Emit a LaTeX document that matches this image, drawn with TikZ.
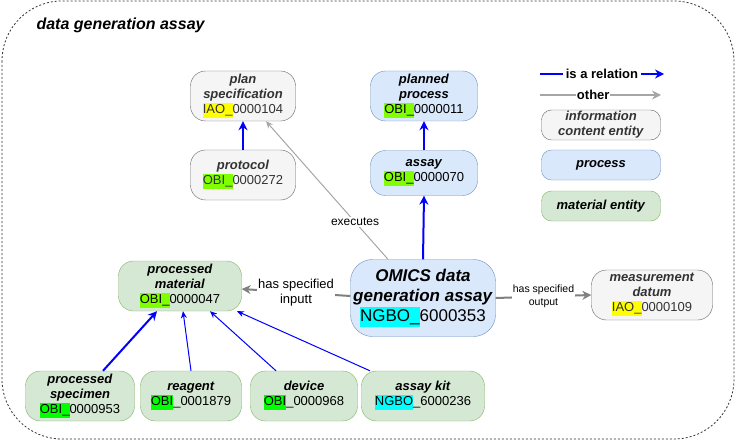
\documentclass[tikz,border=0pt]{standalone}
\usepackage{fontspec}
\setmainfont{Liberation Sans}
\usepackage{tikz}
\usetikzlibrary{arrows.meta}
\definecolor{icefill}{HTML}{F5F5F5}
\definecolor{icestroke}{HTML}{666666}
\definecolor{icetext}{HTML}{333333}
\definecolor{procfill}{HTML}{DAE8FC}
\definecolor{procstroke}{HTML}{6C8EBF}
\definecolor{matfill}{HTML}{D5E8D4}
\definecolor{matstroke}{HTML}{82B366}
\definecolor{idyellow}{HTML}{FFFF00}
\definecolor{idlime}{HTML}{80FF00}
\definecolor{idgreen}{HTML}{00FF00}
\definecolor{idcyan}{HTML}{00FFFF}
\definecolor{relgray}{HTML}{808080}
\definecolor{execgray}{HTML}{A6A6A6}
\newcommand{\term}[1]{\textbf{\textit{#1}}}
\newcommand{\hl}[2]{{\setlength{\fboxsep}{0pt}\colorbox{#1}{\strut#2}}}

\begin{document}
\begin{tikzpicture}[
  x=1pt,y=-1pt,
  box/.style={draw,rounded corners=15pt,align=center,inner sep=0pt,
    font=\fontsize{13}{15}\selectfont},
  info/.style={box,draw=icestroke,fill=icefill,text=icetext},
  proc/.style={box,draw=procstroke,fill=procfill},
  mat/.style={box,draw=matstroke,fill=matfill},
  legbox/.style={box,rounded corners=10pt,minimum width=119pt,minimum height=30pt},
  isa/.style={-{Stealth[length=9pt,width=9pt]},draw=blue,line width=2pt},
  isathin/.style={-{Stealth[length=7pt,width=6pt]},draw=blue,line width=1pt},
  rel/.style={-{Stealth[length=9pt,width=9pt]},draw=relgray,line width=2pt},
  execrel/.style={-{Stealth[length=7pt,width=6pt]},draw=execgray,line width=1pt},
  lbl/.style={fill=white,inner sep=1pt,align=center},
  leglbl/.style={lbl,inner sep=3pt,font=\fontsize{13}{15}\selectfont\bfseries}
]
\useasboundingbox (0,0) rectangle (736,441);
\draw[black!80,line width=0.8pt,dash pattern=on 2pt off 2pt,rounded corners=60pt]
  (2,1) rectangle (734,439);
\node[anchor=west,font=\fontsize{16}{19}\selectfont] (title) at (33,25) {\term{data generation assay}};

% information content entities
\node[info,minimum width=105pt,minimum height=50pt] (plan) at (243,96)
  {\term{plan}\\\term{specification}\\\hl{idyellow}{IAO\_}0000104};
\node[info,minimum width=105pt,minimum height=50pt] (protocol) at (243,175)
  {\term{protocol}\\\hl{idlime}{OBI\_}0000272};
\node[info,minimum width=121pt,minimum height=50pt] (datum) at (652,295)
  {\term{measurement}\\\term{datum}\\\hl{idyellow}{IAO\_}0000109};

% processes
\node[proc,minimum width=107pt,minimum height=50pt] (planned) at (424,96)
  {\term{planned}\\\term{process}\\\hl{idlime}{OBI\_}0000011};
\node[proc,minimum width=107pt,minimum height=45pt] (assay) at (424,173)
  {\term{assay}\\\hl{idlime}{OBI\_}0000070};
\node[proc,rounded corners=22pt,minimum width=145pt,minimum height=77pt,
  font=\fontsize{17}{20}\selectfont] (omics) at (423,298)
  {\term{OMICS data}\\\term{generation assay}\\\hl{idcyan}{NGBO\_}6000353};

% material entities
\node[mat,minimum width=123pt,minimum height=50pt] (material) at (180,286)
  {\term{processed}\\\term{material}\\\hl{idlime}{OBI\_}0000047};
\node[mat,minimum width=109pt,minimum height=50pt] (specimen) at (80,396)
  {\term{processed}\\\term{specimen}\\\hl{idgreen}{OBI\_}0000953};
\node[mat,minimum width=101pt,minimum height=50pt] (reagent) at (191,396)
  {\term{reagent}\\\hl{idgreen}{OBI}\_0001879};
\node[mat,minimum width=107pt,minimum height=50pt] (device) at (304,396)
  {\term{device}\\\hl{idgreen}{OBI}\_0000968};
\node[mat,minimum width=123pt,minimum height=50pt] (kit) at (423,396)
  {\term{assay kit}\\\hl{idcyan}{NGBO}\_6000236};

% legend
\coordinate (isaA) at (540,74);
\coordinate (isaB) at (664,74);
\coordinate (otherA) at (540,95);
\coordinate (otherB) at (661,95);
\draw[isa,line width=1.6pt] (isaA) -- node[leglbl] (isalbl) {is a relation} (isaB);
\draw[rel,draw=execgray,line width=1.6pt] (otherA) -- node[leglbl,inner sep=1pt,pos=0.44] (otherlbl) {other} (otherB);
\node[info,legbox] (legice) at (601,125) {\term{information}\\\term{content entity}};
\node[proc,legbox] (legproc) at (601,165) {\term{process}};
\node[mat,legbox] (legmat) at (601,206) {\term{material entity}};

% is a relations
\draw[isa] (protocol.north) -- (plan.south);
\draw[isa] (assay.north) -- (planned.south);
\draw[isa] (omics.north) -- (assay.south);
\draw[isa] ([xshift=23pt]specimen.north) -- ([xshift=-23pt]material.south);
\draw[isathin] (reagent.north) -- ([xshift=3pt]material.south);
\draw[isathin] ([xshift=-28pt]device.north) -- ([xshift=30pt]material.south);
\draw[isathin] ([xshift=-53pt]kit.north) -- ([xshift=57pt]material.south);

% other relations
\draw[execrel] ([xshift=-35pt]omics.north) -- node[lbl,pos=0.27,font=\fontsize{12}{14}\selectfont] (execlbl) {executes} ([xshift=23pt]plan.south);
\draw[rel] ([yshift=2pt]omics.west) -- node[lbl,font=\fontsize{13}{15}\selectfont] (inlbl) {has specified\\inputt} ([yshift=-3pt]material.east);
\draw[rel] (omics.east) -- node[lbl,font=\fontsize{10.5}{12.5}\selectfont] (outlbl) {has specified\\output} (datum.west);
\end{tikzpicture}
\end{document}
